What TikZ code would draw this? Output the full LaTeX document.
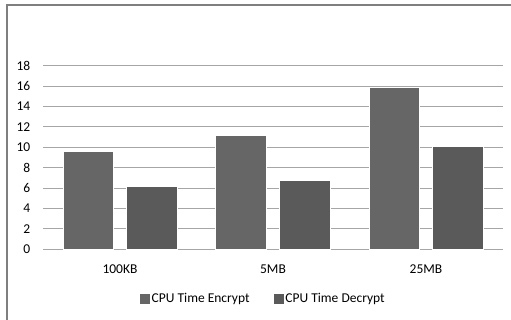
\documentclass[tikz,border=0pt]{standalone}
\usepackage{fontspec}
\setmainfont{Carlito}

\definecolor{encgray}{HTML}{666666}
\definecolor{decgray}{HTML}{5A5A5A}
\definecolor{gridgray}{HTML}{A6A6A6}
\definecolor{framegray}{HTML}{7F7F7F}

\begin{document}
\begin{tikzpicture}[x=1pt,y=-1pt,font=\fontsize{13.5}{16}\selectfont,
    gridline/.style={draw=gridgray,line width=0.9pt},
    encbar/.style={fill=encgray,draw=white,line width=0.5pt},
    decbar/.style={fill=decgray,draw=white,line width=0.5pt},
    ticklabel/.style={anchor=east,inner sep=0pt},
    catlabel/.style={anchor=center,inner sep=0pt},
    keybox/.style={minimum size=10pt,inner sep=0pt}]

\useasboundingbox (0,0) rectangle (511,320);

% Frame (left and top edges only)
\draw[framegray,line width=2pt] (7,320) -- (7,5) -- (511,5);

% Grid lines and value labels
\foreach \v in {0,2,...,18} {
    \draw[gridline] (43.3,{249.3-10.2*\v}) -- (502.7,{249.3-10.2*\v});
    \node[ticklabel] (tick\v) at (30.5,{249.3-10.2*\v}) {\v};
}

% Bars: left edge, right edge, value
\foreach \xl/\xr/\val in {63.3/113.3/9.57, 215.7/266.3/11.14, 369/419.3/15.85}
    \draw[encbar] (\xl,249.3) rectangle (\xr,{249.3-10.2*\val});
\foreach \xl/\xr/\val in {126.7/177.3/6.14, 279/330/6.73, 432.3/483.3/10.06}
    \draw[decbar] (\xl,249.3) rectangle (\xr,{249.3-10.2*\val});

% Category labels
\node[catlabel] (cat1) at (120,269) {100KB};
\node[catlabel] (cat2) at (273,269) {5MB};
\node[catlabel] (cat3) at (426,269) {25MB};

% Legend
\node[keybox,fill=encgray] (keyenc) at (145.3,299) {};
\node[anchor=west,inner sep=1pt] (txtenc) at (keyenc.east) {CPU Time Encrypt};
\node[keybox,fill=decgray] (keydec) at (279,299) {};
\node[anchor=west,inner sep=1pt] (txtdec) at (keydec.east) {CPU Time Decrypt};

\end{tikzpicture}
\end{document}
